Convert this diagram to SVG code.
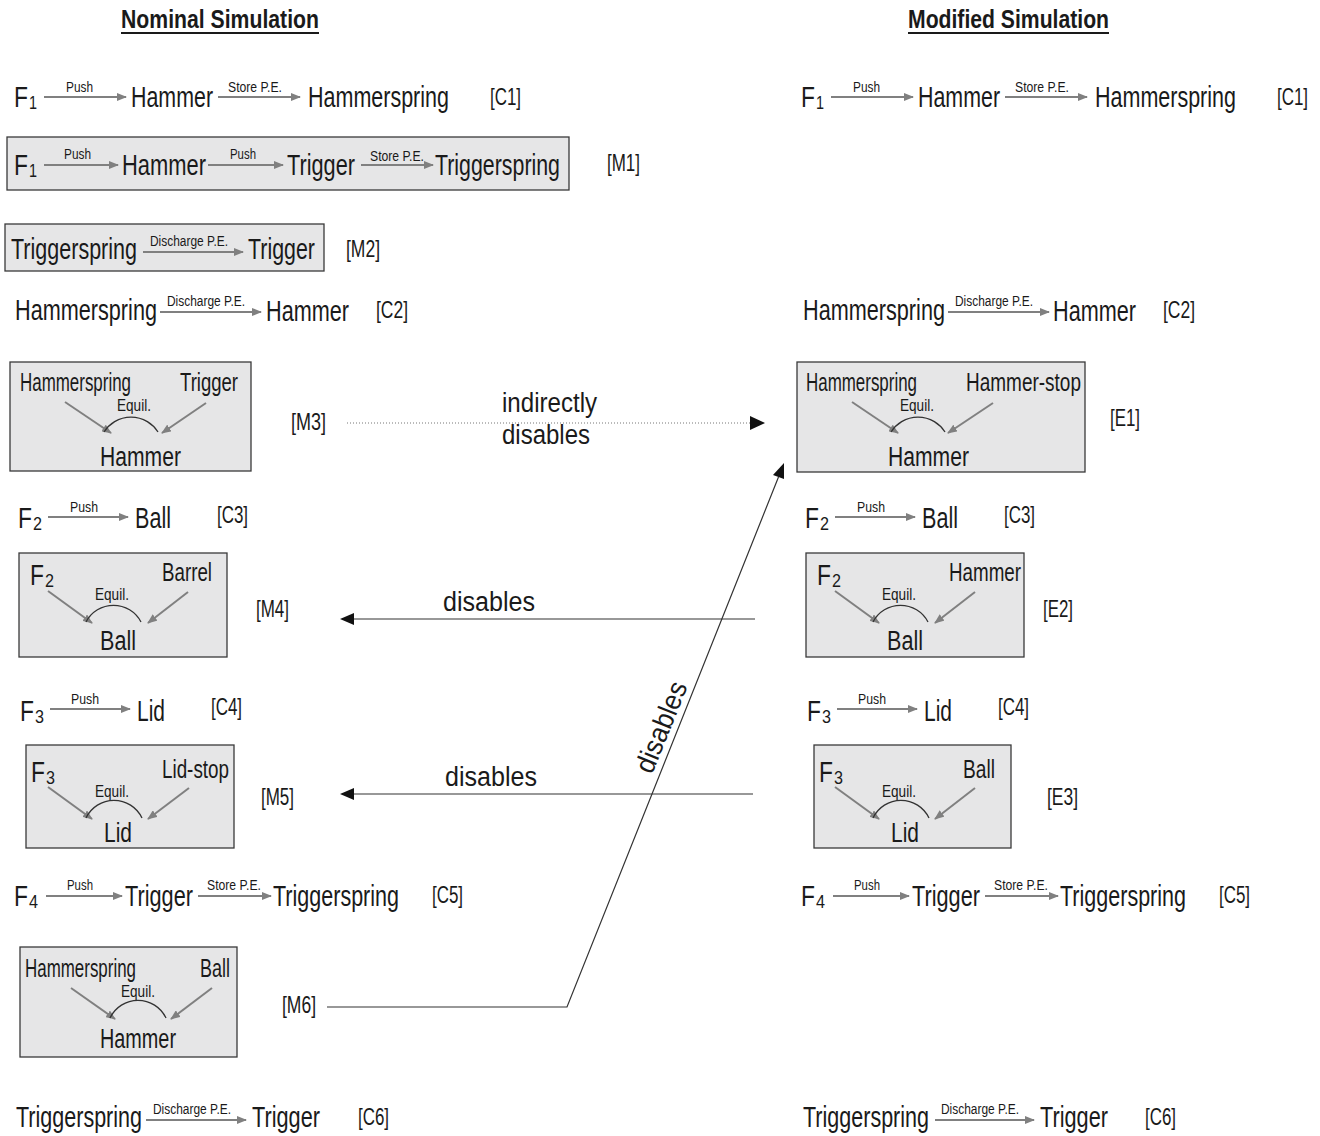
<svg xmlns="http://www.w3.org/2000/svg" width="1320" height="1136" viewBox="0 0 1320 1136">
<style>
text{font-family:"Liberation Sans",Arial,sans-serif;fill:#1a1a1a}
.L{font-size:30px}
.S{font-size:19px}
.a{font-size:15px}
.g{font-size:24px}
.b{font-size:25px}
.e{font-size:16px}
.k{font-size:28px}
.c{font-size:28px}
.h{font-size:26px;font-weight:bold}
.ar{stroke:#808080;stroke-width:2;fill:none;marker-end:url(#ga)}
.box{fill:#e6e6e7;stroke:#3a3a3a;stroke-width:1.3}
.arc{stroke:#333;stroke-width:1.3;fill:none}
.cn{stroke:#333;stroke-width:1.2;fill:none}
</style>
<defs>
<marker id="ga" viewBox="0 0 10 8" refX="9" refY="4" markerWidth="10" markerHeight="8" markerUnits="userSpaceOnUse" orient="auto"><path d="M0,0 L10,4 L0,8 z" fill="#808080"/></marker>
</defs>
<rect width="1320" height="1136" fill="#fff"/>

<g id="titles">
<text class="h" transform="translate(121,28) scale(.76,1)" textLength="260.5" lengthAdjust="spacingAndGlyphs">Nominal Simulation</text>
<line x1="121" y1="33" x2="319" y2="33" stroke="#1a1a1a" stroke-width="2"/>
<text class="h" transform="translate(908,28) scale(.76,1)" textLength="264.5" lengthAdjust="spacingAndGlyphs">Modified Simulation</text>
<line x1="908" y1="33" x2="1109" y2="33" stroke="#1a1a1a" stroke-width="2"/>
</g>

<g id="C1-left">
<text class="L" transform="translate(14,107) scale(.72,1)" textLength="19.4" lengthAdjust="spacingAndGlyphs">F</text>
<text class="S" transform="translate(29,109) scale(.75,1)" textLength="10.7" lengthAdjust="spacingAndGlyphs">1</text>
<line class="ar" x1="44" y1="97" x2="126" y2="97"/>
<text class="a" transform="translate(66,92) scale(.78,1)" textLength="34.6" lengthAdjust="spacingAndGlyphs">Push</text>
<text class="L" transform="translate(131,107) scale(.72,1)" textLength="113.9" lengthAdjust="spacingAndGlyphs">Hammer</text>
<line class="ar" x1="218" y1="97" x2="300" y2="97"/>
<text class="a" transform="translate(228,92) scale(.78,1)" textLength="69.2" lengthAdjust="spacingAndGlyphs">Store P.E.</text>
<text class="L" transform="translate(308,107) scale(.72,1)" textLength="195.8" lengthAdjust="spacingAndGlyphs">Hammerspring</text>
<text class="g" transform="translate(490,105) scale(.71,1)" textLength="43.7" lengthAdjust="spacingAndGlyphs">[C1]</text>
</g>

<g id="C1-right">
<text class="L" transform="translate(801,107) scale(.72,1)" textLength="19.4" lengthAdjust="spacingAndGlyphs">F</text>
<text class="S" transform="translate(816,109) scale(.75,1)" textLength="10.7" lengthAdjust="spacingAndGlyphs">1</text>
<line class="ar" x1="831" y1="97" x2="913" y2="97"/>
<text class="a" transform="translate(853,92) scale(.78,1)" textLength="34.6" lengthAdjust="spacingAndGlyphs">Push</text>
<text class="L" transform="translate(918,107) scale(.72,1)" textLength="113.9" lengthAdjust="spacingAndGlyphs">Hammer</text>
<line class="ar" x1="1005" y1="97" x2="1087" y2="97"/>
<text class="a" transform="translate(1015,92) scale(.78,1)" textLength="69.2" lengthAdjust="spacingAndGlyphs">Store P.E.</text>
<text class="L" transform="translate(1095,107) scale(.72,1)" textLength="195.8" lengthAdjust="spacingAndGlyphs">Hammerspring</text>
<text class="g" transform="translate(1277,105) scale(.71,1)" textLength="43.7" lengthAdjust="spacingAndGlyphs">[C1]</text>
</g>

<g id="M1">
<rect class="box" x="7" y="137" width="562" height="53"/>
<text class="L" transform="translate(14,175) scale(.72,1)" textLength="19.4" lengthAdjust="spacingAndGlyphs">F</text>
<text class="S" transform="translate(29,177) scale(.75,1)" textLength="10.7" lengthAdjust="spacingAndGlyphs">1</text>
<line class="ar" x1="44" y1="165" x2="118" y2="165"/>
<text class="a" transform="translate(64,159) scale(.78,1)" textLength="34.6" lengthAdjust="spacingAndGlyphs">Push</text>
<text class="L" transform="translate(122,175) scale(.72,1)" textLength="116.7" lengthAdjust="spacingAndGlyphs">Hammer</text>
<line class="ar" x1="208" y1="165" x2="283" y2="165"/>
<text class="a" transform="translate(230,159) scale(.78,1)" textLength="33.3" lengthAdjust="spacingAndGlyphs">Push</text>
<text class="L" transform="translate(287,175) scale(.72,1)" textLength="94.4" lengthAdjust="spacingAndGlyphs">Trigger</text>
<line class="ar" x1="361" y1="165" x2="433" y2="165"/>
<text class="a" transform="translate(370,161) scale(.78,1)" textLength="69.2" lengthAdjust="spacingAndGlyphs">Store P.E.</text>
<text class="L" transform="translate(435,175) scale(.72,1)" textLength="173.6" lengthAdjust="spacingAndGlyphs">Triggerspring</text>
<text class="g" transform="translate(607,171) scale(.71,1)" textLength="46.5" lengthAdjust="spacingAndGlyphs">[M1]</text>
</g>

<g id="M2">
<rect class="box" x="5" y="224" width="319" height="47"/>
<text class="L" transform="translate(11,259) scale(.72,1)" textLength="175" lengthAdjust="spacingAndGlyphs">Triggerspring</text>
<line class="ar" x1="143" y1="252" x2="243" y2="252"/>
<text class="a" transform="translate(150,246) scale(.78,1)" textLength="100" lengthAdjust="spacingAndGlyphs">Discharge P.E.</text>
<text class="L" transform="translate(248,259) scale(.72,1)" textLength="93" lengthAdjust="spacingAndGlyphs">Trigger</text>
<text class="g" transform="translate(346,257) scale(.71,1)" textLength="47.9" lengthAdjust="spacingAndGlyphs">[M2]</text>
</g>

<g id="C2-left">
<text class="L" transform="translate(15,320) scale(.72,1)" textLength="197.2" lengthAdjust="spacingAndGlyphs">Hammerspring</text>
<line class="ar" x1="160" y1="312" x2="261" y2="312"/>
<text class="a" transform="translate(167,306) scale(.78,1)" textLength="100" lengthAdjust="spacingAndGlyphs">Discharge P.E.</text>
<text class="L" transform="translate(266,321) scale(.72,1)" textLength="115.3" lengthAdjust="spacingAndGlyphs">Hammer</text>
<text class="g" transform="translate(376,318) scale(.71,1)" textLength="45.1" lengthAdjust="spacingAndGlyphs">[C2]</text>
</g>

<g id="C2-right">
<text class="L" transform="translate(803,320) scale(.72,1)" textLength="197.2" lengthAdjust="spacingAndGlyphs">Hammerspring</text>
<line class="ar" x1="948" y1="312" x2="1049" y2="312"/>
<text class="a" transform="translate(955,306) scale(.78,1)" textLength="100" lengthAdjust="spacingAndGlyphs">Discharge P.E.</text>
<text class="L" transform="translate(1053,321) scale(.72,1)" textLength="115.3" lengthAdjust="spacingAndGlyphs">Hammer</text>
<text class="g" transform="translate(1163,318) scale(.71,1)" textLength="45.1" lengthAdjust="spacingAndGlyphs">[C2]</text>
</g>

<g id="M3">
<rect class="box" x="10" y="362" width="241" height="109"/>
<text class="b" transform="translate(20,391) scale(.74,1)" textLength="150" lengthAdjust="spacingAndGlyphs">Hammerspring</text>
<text class="b" transform="translate(180,391) scale(.74,1)" textLength="78.4" lengthAdjust="spacingAndGlyphs">Trigger</text>
<line class="ar" x1="65" y1="402" x2="111" y2="433"/>
<line class="ar" x1="206" y1="403" x2="162" y2="433"/>
<path class="arc" d="M104,432 A32,32 0 0 1 158,432"/>
<text class="e" transform="translate(117,411) scale(.8,1)" textLength="42.5" lengthAdjust="spacingAndGlyphs">Equil.</text>
<text class="k" transform="translate(100,466) scale(.76,1)" textLength="106.6" lengthAdjust="spacingAndGlyphs">Hammer</text>
<text class="g" transform="translate(291,430) scale(.71,1)" textLength="49.3" lengthAdjust="spacingAndGlyphs">[M3]</text>
</g>

<g id="E1">
<rect class="box" x="797" y="362" width="288" height="110"/>
<text class="b" transform="translate(806,391) scale(.74,1)" textLength="150" lengthAdjust="spacingAndGlyphs">Hammerspring</text>
<text class="b" transform="translate(966,391) scale(.74,1)" textLength="155.4" lengthAdjust="spacingAndGlyphs">Hammer-stop</text>
<line class="ar" x1="852" y1="402" x2="898" y2="433"/>
<line class="ar" x1="993" y1="403" x2="948" y2="433"/>
<path class="arc" d="M891,432 A32,32 0 0 1 945,432"/>
<text class="e" transform="translate(900,411) scale(.8,1)" textLength="42.5" lengthAdjust="spacingAndGlyphs">Equil.</text>
<text class="k" transform="translate(888,466) scale(.76,1)" textLength="106.6" lengthAdjust="spacingAndGlyphs">Hammer</text>
<text class="g" transform="translate(1110,426) scale(.71,1)" textLength="42.3" lengthAdjust="spacingAndGlyphs">[E1]</text>
</g>

<g id="C3-left">
<text class="L" transform="translate(18,528) scale(.72,1)" textLength="19.4" lengthAdjust="spacingAndGlyphs">F</text>
<text class="S" transform="translate(33,530) scale(.75,1)" textLength="12" lengthAdjust="spacingAndGlyphs">2</text>
<line class="ar" x1="48" y1="517" x2="128" y2="517"/>
<text class="a" transform="translate(70,512) scale(.78,1)" textLength="35.9" lengthAdjust="spacingAndGlyphs">Push</text>
<text class="L" transform="translate(135,528) scale(.72,1)" textLength="50" lengthAdjust="spacingAndGlyphs">Ball</text>
<text class="g" transform="translate(217,523) scale(.71,1)" textLength="43.7" lengthAdjust="spacingAndGlyphs">[C3]</text>
</g>

<g id="C3-right">
<text class="L" transform="translate(805,528) scale(.72,1)" textLength="19.4" lengthAdjust="spacingAndGlyphs">F</text>
<text class="S" transform="translate(820,530) scale(.75,1)" textLength="12" lengthAdjust="spacingAndGlyphs">2</text>
<line class="ar" x1="835" y1="517" x2="915" y2="517"/>
<text class="a" transform="translate(857,512) scale(.78,1)" textLength="35.9" lengthAdjust="spacingAndGlyphs">Push</text>
<text class="L" transform="translate(922,528) scale(.72,1)" textLength="50" lengthAdjust="spacingAndGlyphs">Ball</text>
<text class="g" transform="translate(1004,523) scale(.71,1)" textLength="43.7" lengthAdjust="spacingAndGlyphs">[C3]</text>
</g>

<g id="M4">
<rect class="box" x="19" y="553" width="208" height="104"/>
<text class="L" transform="translate(30,585) scale(.72,1)" textLength="19.4" lengthAdjust="spacingAndGlyphs">F</text>
<text class="S" transform="translate(45,587) scale(.75,1)" textLength="12" lengthAdjust="spacingAndGlyphs">2</text>
<text class="b" transform="translate(162,581) scale(.74,1)" textLength="67.6" lengthAdjust="spacingAndGlyphs">Barrel</text>
<line class="ar" x1="48" y1="591" x2="92" y2="623"/>
<line class="ar" x1="188" y1="592" x2="148" y2="623"/>
<path class="arc" d="M86,622 A31,31 0 0 1 141,622"/>
<text class="e" transform="translate(95,600) scale(.8,1)" textLength="42.5" lengthAdjust="spacingAndGlyphs">Equil.</text>
<text class="k" transform="translate(100,650) scale(.76,1)" textLength="47.4" lengthAdjust="spacingAndGlyphs">Ball</text>
<text class="g" transform="translate(256,617) scale(.71,1)" textLength="46.5" lengthAdjust="spacingAndGlyphs">[M4]</text>
</g>

<g id="E2">
<rect class="box" x="806" y="553" width="218" height="104"/>
<text class="L" transform="translate(817,585) scale(.72,1)" textLength="19.4" lengthAdjust="spacingAndGlyphs">F</text>
<text class="S" transform="translate(832,587) scale(.75,1)" textLength="12" lengthAdjust="spacingAndGlyphs">2</text>
<text class="b" transform="translate(949,581) scale(.74,1)" textLength="97.3" lengthAdjust="spacingAndGlyphs">Hammer</text>
<line class="ar" x1="835" y1="591" x2="879" y2="623"/>
<line class="ar" x1="975" y1="592" x2="935" y2="623"/>
<path class="arc" d="M873,622 A31,31 0 0 1 928,622"/>
<text class="e" transform="translate(882,600) scale(.8,1)" textLength="42.5" lengthAdjust="spacingAndGlyphs">Equil.</text>
<text class="k" transform="translate(887,650) scale(.76,1)" textLength="47.4" lengthAdjust="spacingAndGlyphs">Ball</text>
<text class="g" transform="translate(1043,617) scale(.71,1)" textLength="42.3" lengthAdjust="spacingAndGlyphs">[E2]</text>
</g>

<g id="C4-left">
<text class="L" transform="translate(20,721) scale(.72,1)" textLength="19.4" lengthAdjust="spacingAndGlyphs">F</text>
<text class="S" transform="translate(35,723) scale(.75,1)" textLength="12" lengthAdjust="spacingAndGlyphs">3</text>
<line class="ar" x1="50" y1="709" x2="130" y2="709"/>
<text class="a" transform="translate(71,704) scale(.78,1)" textLength="35.9" lengthAdjust="spacingAndGlyphs">Push</text>
<text class="L" transform="translate(137,721) scale(.72,1)" textLength="38.9" lengthAdjust="spacingAndGlyphs">Lid</text>
<text class="g" transform="translate(211,715) scale(.71,1)" textLength="43.7" lengthAdjust="spacingAndGlyphs">[C4]</text>
</g>

<g id="C4-right">
<text class="L" transform="translate(807,721) scale(.72,1)" textLength="19.4" lengthAdjust="spacingAndGlyphs">F</text>
<text class="S" transform="translate(822,723) scale(.75,1)" textLength="12" lengthAdjust="spacingAndGlyphs">3</text>
<line class="ar" x1="837" y1="709" x2="917" y2="709"/>
<text class="a" transform="translate(858,704) scale(.78,1)" textLength="35.9" lengthAdjust="spacingAndGlyphs">Push</text>
<text class="L" transform="translate(924,721) scale(.72,1)" textLength="38.9" lengthAdjust="spacingAndGlyphs">Lid</text>
<text class="g" transform="translate(998,715) scale(.71,1)" textLength="43.7" lengthAdjust="spacingAndGlyphs">[C4]</text>
</g>

<g id="M5">
<rect class="box" x="26" y="745" width="208" height="103"/>
<text class="L" transform="translate(31,782) scale(.72,1)" textLength="19.4" lengthAdjust="spacingAndGlyphs">F</text>
<text class="S" transform="translate(46,784) scale(.75,1)" textLength="12" lengthAdjust="spacingAndGlyphs">3</text>
<text class="b" transform="translate(162,778) scale(.74,1)" textLength="90.5" lengthAdjust="spacingAndGlyphs">Lid-stop</text>
<line class="ar" x1="48" y1="787" x2="92" y2="819"/>
<line class="ar" x1="189" y1="788" x2="148" y2="819"/>
<path class="arc" d="M86,818 A31,31 0 0 1 142,818"/>
<text class="e" transform="translate(95,797) scale(.8,1)" textLength="42.5" lengthAdjust="spacingAndGlyphs">Equil.</text>
<text class="k" transform="translate(104,842) scale(.76,1)" textLength="36.8" lengthAdjust="spacingAndGlyphs">Lid</text>
<text class="g" transform="translate(261,805) scale(.71,1)" textLength="46.5" lengthAdjust="spacingAndGlyphs">[M5]</text>
</g>

<g id="E3">
<rect class="box" x="814" y="745" width="197" height="103"/>
<text class="L" transform="translate(819,782) scale(.72,1)" textLength="19.4" lengthAdjust="spacingAndGlyphs">F</text>
<text class="S" transform="translate(834,784) scale(.75,1)" textLength="12" lengthAdjust="spacingAndGlyphs">3</text>
<text class="b" transform="translate(963,778) scale(.74,1)" textLength="43.2" lengthAdjust="spacingAndGlyphs">Ball</text>
<line class="ar" x1="835" y1="787" x2="879" y2="819"/>
<line class="ar" x1="975" y1="788" x2="935" y2="819"/>
<path class="arc" d="M873,818 A31,31 0 0 1 929,818"/>
<text class="e" transform="translate(882,797) scale(.8,1)" textLength="42.5" lengthAdjust="spacingAndGlyphs">Equil.</text>
<text class="k" transform="translate(891,842) scale(.76,1)" textLength="36.8" lengthAdjust="spacingAndGlyphs">Lid</text>
<text class="g" transform="translate(1047,805) scale(.71,1)" textLength="43.7" lengthAdjust="spacingAndGlyphs">[E3]</text>
</g>

<g id="C5-left">
<text class="L" transform="translate(14,906) scale(.72,1)" textLength="19.4" lengthAdjust="spacingAndGlyphs">F</text>
<text class="S" transform="translate(29,908) scale(.75,1)" textLength="12" lengthAdjust="spacingAndGlyphs">4</text>
<line class="ar" x1="46" y1="896" x2="122" y2="896"/>
<text class="a" transform="translate(67,890) scale(.78,1)" textLength="33.3" lengthAdjust="spacingAndGlyphs">Push</text>
<text class="L" transform="translate(125,906) scale(.72,1)" textLength="94.4" lengthAdjust="spacingAndGlyphs">Trigger</text>
<line class="ar" x1="198" y1="896" x2="271" y2="896"/>
<text class="a" transform="translate(207,890) scale(.78,1)" textLength="69.2" lengthAdjust="spacingAndGlyphs">Store P.E.</text>
<text class="L" transform="translate(273,906) scale(.72,1)" textLength="175" lengthAdjust="spacingAndGlyphs">Triggerspring</text>
<text class="g" transform="translate(432,903) scale(.71,1)" textLength="43.7" lengthAdjust="spacingAndGlyphs">[C5]</text>
</g>

<g id="C5-right">
<text class="L" transform="translate(801,906) scale(.72,1)" textLength="19.4" lengthAdjust="spacingAndGlyphs">F</text>
<text class="S" transform="translate(816,908) scale(.75,1)" textLength="12" lengthAdjust="spacingAndGlyphs">4</text>
<line class="ar" x1="833" y1="896" x2="909" y2="896"/>
<text class="a" transform="translate(854,890) scale(.78,1)" textLength="33.3" lengthAdjust="spacingAndGlyphs">Push</text>
<text class="L" transform="translate(912,906) scale(.72,1)" textLength="94.4" lengthAdjust="spacingAndGlyphs">Trigger</text>
<line class="ar" x1="985" y1="896" x2="1058" y2="896"/>
<text class="a" transform="translate(994,890) scale(.78,1)" textLength="69.2" lengthAdjust="spacingAndGlyphs">Store P.E.</text>
<text class="L" transform="translate(1060,906) scale(.72,1)" textLength="175" lengthAdjust="spacingAndGlyphs">Triggerspring</text>
<text class="g" transform="translate(1219,903) scale(.71,1)" textLength="43.7" lengthAdjust="spacingAndGlyphs">[C5]</text>
</g>

<g id="M6">
<rect class="box" x="20" y="947" width="217" height="110"/>
<text class="b" transform="translate(25,977) scale(.74,1)" textLength="150" lengthAdjust="spacingAndGlyphs">Hammerspring</text>
<text class="b" transform="translate(200,977) scale(.74,1)" textLength="40.5" lengthAdjust="spacingAndGlyphs">Ball</text>
<line class="ar" x1="71" y1="988" x2="115" y2="1019"/>
<line class="ar" x1="212" y1="988" x2="171" y2="1019"/>
<path class="arc" d="M110,1018 A31,31 0 0 1 166,1018"/>
<text class="e" transform="translate(121,997) scale(.8,1)" textLength="42.5" lengthAdjust="spacingAndGlyphs">Equil.</text>
<text class="k" transform="translate(100,1048) scale(.76,1)" textLength="100" lengthAdjust="spacingAndGlyphs">Hammer</text>
<text class="g" transform="translate(282,1013) scale(.71,1)" textLength="47.9" lengthAdjust="spacingAndGlyphs">[M6]</text>
</g>

<g id="C6-left">
<text class="L" transform="translate(16,1127) scale(.72,1)" textLength="175" lengthAdjust="spacingAndGlyphs">Triggerspring</text>
<line class="ar" x1="146" y1="1120" x2="246" y2="1120"/>
<text class="a" transform="translate(153,1114) scale(.78,1)" textLength="100" lengthAdjust="spacingAndGlyphs">Discharge P.E.</text>
<text class="L" transform="translate(252,1127) scale(.72,1)" textLength="94.4" lengthAdjust="spacingAndGlyphs">Trigger</text>
<text class="g" transform="translate(358,1125) scale(.71,1)" textLength="43.7" lengthAdjust="spacingAndGlyphs">[C6]</text>
</g>

<g id="C6-right">
<text class="L" transform="translate(803,1127) scale(.72,1)" textLength="175" lengthAdjust="spacingAndGlyphs">Triggerspring</text>
<line class="ar" x1="935" y1="1120" x2="1034" y2="1120"/>
<text class="a" transform="translate(941,1114) scale(.78,1)" textLength="100" lengthAdjust="spacingAndGlyphs">Discharge P.E.</text>
<text class="L" transform="translate(1040,1127) scale(.72,1)" textLength="94.4" lengthAdjust="spacingAndGlyphs">Trigger</text>
<text class="g" transform="translate(1145,1125) scale(.71,1)" textLength="43.7" lengthAdjust="spacingAndGlyphs">[C6]</text>
</g>

<g id="connectors">
<line x1="347" y1="423" x2="752" y2="423" stroke="#777" stroke-width="1" stroke-dasharray="1,2"/>
<polygon points="750,416 765,423 750,430" fill="#111"/>
<text class="c" transform="translate(502,412) scale(.88,1)" textLength="108" lengthAdjust="spacingAndGlyphs">indirectly</text>
<text class="c" transform="translate(502,444) scale(.88,1)" textLength="100" lengthAdjust="spacingAndGlyphs">disables</text>

<line class="cn" x1="755" y1="619" x2="352" y2="619"/>
<polygon points="340,619 354,613 354,625" fill="#111"/>
<text class="c" transform="translate(443,611) scale(.88,1)" textLength="104.5" lengthAdjust="spacingAndGlyphs">disables</text>

<line class="cn" x1="753" y1="794" x2="352" y2="794"/>
<polygon points="340,794 354,788 354,800" fill="#111"/>
<text class="c" transform="translate(445,786) scale(.88,1)" textLength="104.5" lengthAdjust="spacingAndGlyphs">disables</text>

<polyline class="cn" points="327,1007 567,1007 778.5,477"/>
<polygon points="784,463 784,479 773,475" fill="#111"/>
<text class="c" transform="translate(652,775) rotate(-68) scale(.88,1)" textLength="109" lengthAdjust="spacingAndGlyphs">disables</text>
</g>
</svg>
